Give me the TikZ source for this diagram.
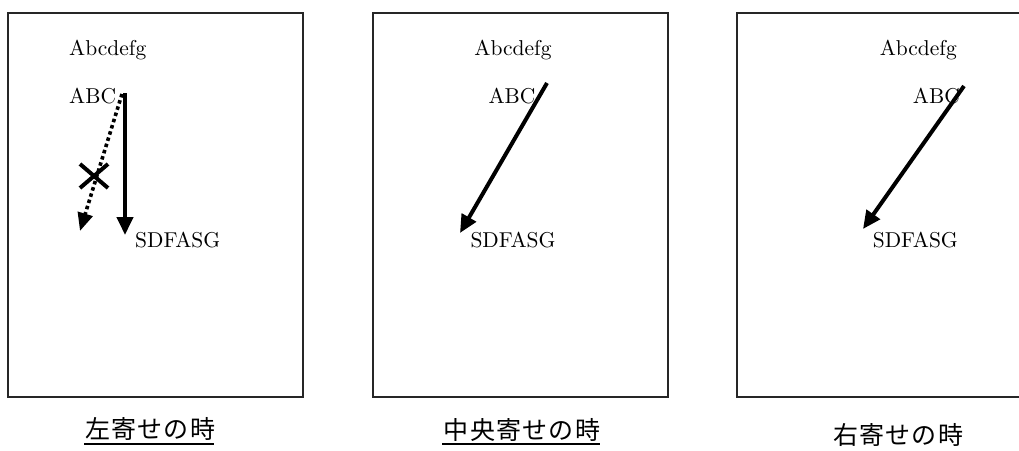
\documentclass[tikz,border=0pt]{standalone}
\usepackage{fontspec}
\newfontfamily\jp{Noto Sans CJK JP}[LetterSpace=5]
\newfontfamily\ser{lmroman10-regular}[Extension=.otf]
\usetikzlibrary{arrows.meta}
\begin{document}
\begin{tikzpicture}[x=1pt,y=-1pt,
  panel/.style={draw=black!85,line width=1.8pt},
  txt/.style={inner sep=0pt,font=\ser\fontsize{21.5}{25}\selectfont},
  captxt/.style={inner sep=0pt,font=\jp\fontsize{25}{29}\selectfont},
  arr/.style={line width=4pt,-{Triangle[length=18pt,width=16pt]}},
  dotarr/.style={line width=3.6pt,dash pattern=on 3.5pt off 3pt,-{Triangle[length=18pt,width=15pt]}},
  crossline/.style={line width=4pt},
  uline/.style={line width=1.8pt}]
\useasboundingbox (0,0) rectangle (1019,450);
\clip (0,0) rectangle (1019,450);
\fill[white] (0,0) rectangle (1019,450);
% panels
\draw[panel] (8,13) rectangle (303,397);
\draw[panel] (373,13) rectangle (668,397);
\draw[panel] (737,13) rectangle (1040,397);
% left panel
\node[txt,anchor=base west] (a1) at (69,55) {Abcdefg};
\node[txt,anchor=base west] (b1) at (69,103) {ABC};
\node[txt,anchor=base west] (c1) at (135,247) {SDFASG};
\coordinate (s1) at (125,93);
\coordinate (e1) at (125,235);
\coordinate (ds1) at (122,94);
\coordinate (de1) at (80,231);
\draw[arr] (s1) -- (e1);
\draw[dotarr] (ds1) -- (de1);
\coordinate (x1) at (94,176);
\draw[crossline] ([shift={(-14,-12)}]x1) -- ([shift={(14,12)}]x1);
\draw[crossline] ([shift={(-14,12)}]x1) -- ([shift={(14,-12)}]x1);
% middle panel
\node[txt,anchor=base] (a2) at (513,55) {Abcdefg};
\node[txt,anchor=base] (b2) at (512,103) {ABC};
\node[txt,anchor=base] (c2) at (513,247) {SDFASG};
\coordinate (s2) at (547,83);
\coordinate (e2) at (460,233);
\draw[arr] (s2) -- (e2);
% right panel
\node[txt,anchor=base east] (a3) at (957,55) {Abcdefg};
\node[txt,anchor=base east] (b3) at (960,103) {ABC};
\node[txt,anchor=base east] (c3) at (958,247) {SDFASG};
\coordinate (s3) at (964,86);
\coordinate (e3) at (863,229);
\draw[arr] (s3) -- (e3);
% captions
\node[captxt] (l1) at (150,429) {左寄せの時};
\node[captxt] (l2) at (522,430) {中央寄せの時};
\node[captxt] (l3) at (898,435) {右寄せの時};
\coordinate (u1a) at (84,444);
\coordinate (u1b) at (214,444);
\coordinate (u2a) at (442,444);
\coordinate (u2b) at (600,444);
\draw[uline] (u1a) -- (u1b);
\draw[uline] (u2a) -- (u2b);
\end{tikzpicture}
\end{document}
